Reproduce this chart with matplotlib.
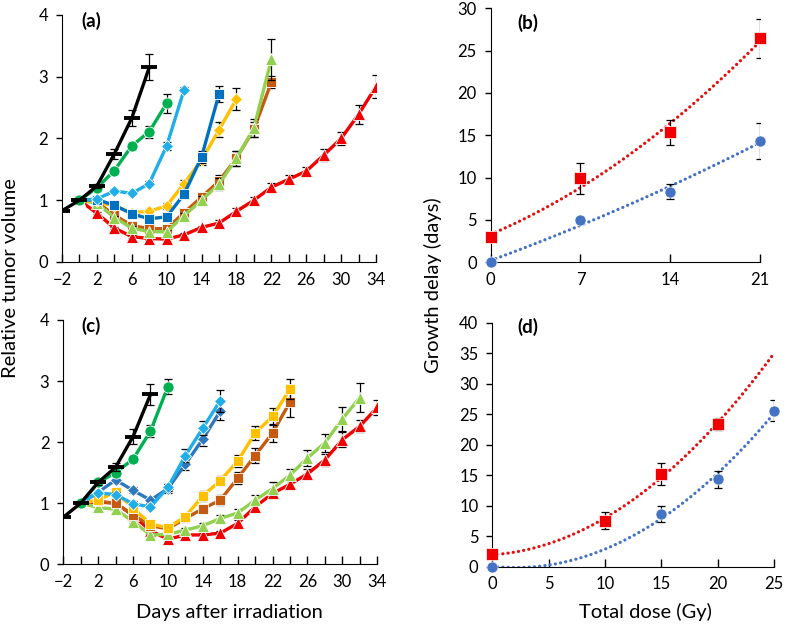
"""Tumor regrowth curves (a, c) and growth delay vs dose (b, d)."""

import numpy as np
import matplotlib
matplotlib.use("Agg")
import matplotlib.pyplot as plt

plt.rcParams["font.family"] = ["Lato", "DejaVu Sans"]

# ---- panel (a): relative tumor volume, days after irradiation ----
A_BLACK_DAYS = [-2, 0, 2, 4, 6, 8]
A_BLACK = [0.83, 1.0, 1.23, 1.75, 2.33, 3.15]
A_BLACK_ERR = [0, 0, 0.03, 0.08, 0.13, 0.21]

A_GREEN = [1.0, 1.2, 1.48, 1.88, 2.11, 2.57]
A_GREEN_ERR = [0, 0.03, 0.05, 0.06, 0.1, 0.15]

A_LBLUE = [1.0, 1.02, 1.15, 1.11, 1.27, 1.88, 2.79]
A_LBLUE_ERR = [0, 0.02, 0.03, 0.03, 0.04, 0.06, 0.04]

A_DBLUE = [1.0, 1.01, 0.92, 0.78, 0.70, 0.73, 1.10, 1.70, 2.72]
A_DBLUE_ERR = [0, 0.02, 0.03, 0.03, 0.04, 0.05, 0.06, 0.1, 0.13]

A_YELLOW = [1.0, 0.98, 0.9, 0.8, 0.82, 0.91, 1.27, 1.65, 2.14, 2.64]
A_YELLOW_ERR = [0, 0.02, 0.03, 0.03, 0.04, 0.05, 0.06, 0.08, 0.12, 0.18]

A_BROWN = [1.0, 0.97, 0.76, 0.59, 0.54, 0.54, 0.80, 1.05, 1.31, 1.68, 2.15, 2.91]
A_BROWN_ERR = [0, 0.02, 0.03, 0.03, 0.03, 0.04, 0.05, 0.07, 0.1, 0.12, 0.12, 0.1]

A_LGREEN = [1.0, 0.95, 0.72, 0.55, 0.49, 0.49, 0.75, 1.0, 1.26, 1.68, 2.17, 3.28]
A_LGREEN_ERR = [0, 0.02, 0.03, 0.03, 0.03, 0.03, 0.05, 0.07, 0.1, 0.12, 0.15, 0.33]

A_RED = [1.0, 0.79, 0.55, 0.41, 0.38, 0.37, 0.44, 0.56, 0.63, 0.82,
         1.0, 1.21, 1.34, 1.47, 1.73, 2.0, 2.39, 2.84]
A_RED_ERR = [0, 0.02, 0.02, 0.02, 0.02, 0.03, 0.03, 0.03, 0.05, 0.05,
             0.06, 0.07, 0.07, 0.07, 0.1, 0.1, 0.15, 0.18]

# ---- panel (c) ----
C_BLACK_DAYS = [-2, 0, 2, 4, 6, 8]
C_BLACK = [0.77, 1.0, 1.34, 1.59, 2.09, 2.78]
C_BLACK_ERR = [0, 0, 0.04, 0.06, 0.12, 0.17]

C_GREEN = [1.0, 1.34, 1.50, 1.72, 2.18, 2.91]
C_GREEN_ERR = [0, 0.03, 0.05, 0.05, 0.1, 0.12]

C_DBLUE = [1.0, 1.18, 1.38, 1.21, 1.05, 1.24, 1.64, 2.05, 2.51]
C_DBLUE_ERR = [0, 0.03, 0.05, 0.05, 0.04, 0.07, 0.1, 0.12, 0.15]

C_LBLUE = [1.0, 1.17, 1.14, 0.99, 0.94, 1.26, 1.78, 2.23, 2.68]
C_LBLUE_ERR = [0, 0.03, 0.04, 0.04, 0.04, 0.06, 0.1, 0.12, 0.18]

C_YELLOW = [1.0, 1.05, 1.19, 0.92, 0.66, 0.6, 0.78, 1.12, 1.37, 1.69, 2.15, 2.42, 2.87]
C_YELLOW_ERR = [0, 0.03, 0.04, 0.05, 0.05, 0.05, 0.06, 0.08, 0.08, 0.1, 0.12, 0.14, 0.16]

C_BROWN = [1.0, 1.03, 1.0, 0.81, 0.63, 0.58, 0.75, 0.91, 1.05, 1.41, 1.78, 2.15, 2.66]
C_BROWN_ERR = [0, 0.03, 0.04, 0.04, 0.04, 0.04, 0.05, 0.06, 0.08, 0.1, 0.12, 0.14, 0.25]

C_LGREEN = [1.0, 0.93, 0.90, 0.70, 0.48, 0.49, 0.56, 0.63, 0.75, 0.84,
            1.05, 1.24, 1.46, 1.74, 1.99, 2.38, 2.73]
C_LGREEN_ERR = [0, 0.02, 0.03, 0.03, 0.03, 0.03, 0.04, 0.05, 0.06, 0.07,
                0.08, 0.1, 0.1, 0.13, 0.15, 0.2, 0.24]

C_RED = [1.0, 1.02, 1.0, 0.8, 0.55, 0.41, 0.48, 0.48, 0.51, 0.67,
         0.94, 1.16, 1.31, 1.48, 1.71, 2.04, 2.26, 2.57]
C_RED_ERR = [0, 0.02, 0.02, 0.03, 0.03, 0.03, 0.03, 0.03, 0.04, 0.05,
             0.06, 0.06, 0.07, 0.08, 0.1, 0.12, 0.1, 0.12]

# ---- panel (b): growth delay vs fractionated dose ----
B_DOSE = [0, 7, 14, 21]
B_RED = [2.95, 9.9, 15.35, 26.45]
B_RED_ERR = [0, 1.8, 1.5, 2.3]
B_BLUE = [0, 5.0, 8.35, 14.35]
B_BLUE_ERR = [0, 0.4, 0.9, 2.1]

# ---- panel (d): growth delay vs total dose ----
D_RED_DOSE = [0, 10, 15, 20]
D_RED = [2.03, 7.55, 15.2, 23.4]
D_RED_ERR = [0, 1.35, 1.8, 1.0]
D_BLUE_DOSE = [0, 15, 20, 25]
D_BLUE = [0, 8.6, 14.3, 25.6]
D_BLUE_ERR = [0, 1.3, 1.4, 1.7]

BLACK = "#000000"
GREEN = "#00B050"
LBLUE = "#1FAEE8"
DBLUE = "#0070C0"
YELLOW = "#FFC000"
BROWN = "#C55A11"
LGREEN = "#92D050"
RED = "#F00000"
TREND_RED = "#E01010"
TREND_BLUE = "#4472C4"

FS_TICK = 12
FS_LABEL = 14.5

MARKER_SIZE = {"^": 8.5, "s": 7.5, "o": 8.0, "D": 6.5}


def days_from(start, values):
    return np.arange(len(values)) * 2 + start


def draw_series(ax, days, vals, errs, color, marker, z=2):
    days = np.asarray(days)
    vals = np.asarray(vals)
    errs = np.asarray(errs)
    has = errs > 0
    ax.errorbar(days[has], vals[has], yerr=errs[has], fmt="none", ecolor="black",
                elinewidth=0.9, capsize=3, capthick=0.9, zorder=z - 0.5)
    if marker == "_":
        ax.plot(days, vals, color=color, lw=2.4, marker="_", ms=12, mew=2.8, zorder=z)
    else:
        ax.plot(days, vals, color=color, lw=2.4, marker=marker, ms=MARKER_SIZE[marker],
                markeredgecolor="white", mew=0.6, zorder=z)


def style_volume_axis(ax):
    ax.set_xlim(-2, 34)
    ax.set_ylim(0, 4)
    for side in ("top", "right"):
        ax.spines[side].set_visible(False)
    ticks = list(range(-2, 35, 2))
    ax.set_xticks(ticks)
    ax.set_xticklabels([str(t).replace("-", "\u2212") if (t + 2) % 4 == 0 else ""
                        for t in ticks])
    ax.set_yticks(range(0, 5))
    ax.tick_params(axis="x", direction="in", length=6, width=1.0, labelsize=FS_TICK, pad=7)
    ax.tick_params(axis="y", direction="out", length=4, width=1.0, labelsize=FS_TICK, pad=6)


def style_delay_axis(ax, xmax, xticks, ymax):
    ax.set_xlim(0, xmax)
    ax.set_ylim(0, ymax)
    for side in ("top", "right"):
        ax.spines[side].set_visible(False)
    ax.set_xticks(xticks)
    ax.set_yticks(range(0, ymax + 1, 5))
    ax.tick_params(axis="x", direction="in", length=6, width=1.0, labelsize=FS_TICK, pad=7)
    ax.tick_params(axis="y", direction="out", length=4, width=1.0, labelsize=FS_TICK, pad=6)


def trend(ax, x, y, xmax, color):
    coef = np.polyfit(x, y, 2)
    xs = np.linspace(0, xmax, 200)
    ax.plot(xs, np.polyval(coef, xs), color=color, lw=2.3,
            ls=(0, (0.05, 1.6)), dash_capstyle="round", zorder=2)


def delay_points(ax, x, y, e, color, marker):
    x, y, e = np.asarray(x), np.asarray(y), np.asarray(e)
    ax.errorbar(x[e > 0], y[e > 0], yerr=e[e > 0], fmt="none", ecolor="black",
                elinewidth=0.9, capsize=3, capthick=0.9, zorder=3)
    ax.plot(x, y, ls="none", marker=marker, ms=8, color=color, markeredgecolor="white",
            mew=0.5, zorder=4, clip_on=False)


fig = plt.figure(figsize=(7.85, 6.26), dpi=100)

ax_a = fig.add_axes([0.079, 0.5815, 0.400, 0.3946])
ax_c = fig.add_axes([0.0806, 0.0986, 0.400, 0.3903])
ax_b = fig.add_axes([0.6251, 0.5810, 0.3431, 0.4058])
ax_d = fig.add_axes([0.6271, 0.0947, 0.3592, 0.3898])

# (a)
draw_series(ax_a, days_from(0, A_RED), A_RED, A_RED_ERR, RED, "^", z=2)
draw_series(ax_a, days_from(0, A_BROWN), A_BROWN, A_BROWN_ERR, BROWN, "s", z=3)
draw_series(ax_a, days_from(0, A_LGREEN), A_LGREEN, A_LGREEN_ERR, LGREEN, "^", z=4)
draw_series(ax_a, days_from(0, A_YELLOW), A_YELLOW, A_YELLOW_ERR, YELLOW, "D", z=5)
draw_series(ax_a, days_from(0, A_DBLUE), A_DBLUE, A_DBLUE_ERR, DBLUE, "s", z=6)
draw_series(ax_a, days_from(0, A_LBLUE), A_LBLUE, A_LBLUE_ERR, LBLUE, "D", z=7)
draw_series(ax_a, days_from(0, A_GREEN), A_GREEN, A_GREEN_ERR, GREEN, "o", z=8)
draw_series(ax_a, A_BLACK_DAYS, A_BLACK, A_BLACK_ERR, BLACK, "_", z=9)
style_volume_axis(ax_a)
ax_a.text(0.092, 0.976, "(a)", transform=ax_a.transAxes, ha="center", va="center",
          fontsize=13.5, fontweight="bold")

# (c)
draw_series(ax_c, days_from(0, C_RED), C_RED, C_RED_ERR, RED, "^", z=2)
draw_series(ax_c, days_from(0, C_LGREEN), C_LGREEN, C_LGREEN_ERR, LGREEN, "^", z=3)
draw_series(ax_c, days_from(0, C_BROWN), C_BROWN, C_BROWN_ERR, BROWN, "s", z=4)
draw_series(ax_c, days_from(0, C_YELLOW), C_YELLOW, C_YELLOW_ERR, YELLOW, "s", z=5)
draw_series(ax_c, days_from(0, C_DBLUE), C_DBLUE, C_DBLUE_ERR, "#2F78BE", "D", z=6)
draw_series(ax_c, days_from(0, C_LBLUE), C_LBLUE, C_LBLUE_ERR, LBLUE, "D", z=7)
draw_series(ax_c, days_from(0, C_GREEN), C_GREEN, C_GREEN_ERR, GREEN, "o", z=8)
draw_series(ax_c, C_BLACK_DAYS, C_BLACK, C_BLACK_ERR, BLACK, "_", z=9)
style_volume_axis(ax_c)
ax_c.text(0.09, 0.977, "(c)", transform=ax_c.transAxes, ha="center", va="center",
          fontsize=13.5, fontweight="bold")

# (b)
trend(ax_b, B_DOSE, B_RED, 21, TREND_RED)
trend(ax_b, B_DOSE, B_BLUE, 21, TREND_BLUE)
delay_points(ax_b, B_DOSE, B_RED, B_RED_ERR, RED, "s")
delay_points(ax_b, B_DOSE, B_BLUE, B_BLUE_ERR, TREND_BLUE, "o")
style_delay_axis(ax_b, 21, [0, 7, 14, 21], 30)
ax_b.text(0.139, 0.944, "(b)", transform=ax_b.transAxes, ha="center", va="center",
          fontsize=13.5, fontweight="bold")

# (d)
trend(ax_d, D_RED_DOSE, D_RED, 25, TREND_RED)
trend(ax_d, D_BLUE_DOSE, D_BLUE, 25, TREND_BLUE)
delay_points(ax_d, D_RED_DOSE, D_RED, D_RED_ERR, RED, "s")
delay_points(ax_d, D_BLUE_DOSE, D_BLUE, D_BLUE_ERR, TREND_BLUE, "o")
style_delay_axis(ax_d, 25, [0, 5, 10, 15, 20, 25], 40)
ax_d.text(0.127, 0.984, "(d)", transform=ax_d.transAxes, ha="center", va="center",
          fontsize=13.5, fontweight="bold")

fig.text(0.014, 0.556, "Relative tumor volume", rotation=90, ha="center", va="center",
         fontsize=FS_LABEL)
fig.text(0.551, 0.545, "Growth delay (days)", rotation=90, ha="center", va="center",
         fontsize=FS_LABEL)
fig.text(0.292, 0.022, "Days after irradiation", ha="center", va="center", fontsize=FS_LABEL)
fig.text(0.822, 0.022, "Total dose (Gy)", ha="center", va="center", fontsize=FS_LABEL)

fig.savefig("out.png", dpi=100, facecolor="white")
